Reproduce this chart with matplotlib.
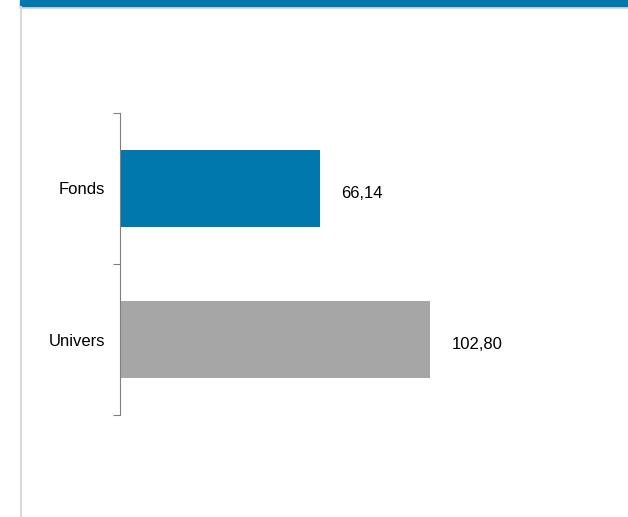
import matplotlib.pyplot as plt
from matplotlib.patches import Rectangle
from matplotlib.lines import Line2D

plt.rcParams['font.family'] = ['Liberation Sans', 'DejaVu Sans']

# data
categories = ['Fonds', 'Univers']
values = [66.14, 102.80]
bar_colors = ['#0077AD', '#A6A6A6']
value_labels = ['66,14', '102,80']

W, H = 628, 517
fig = plt.figure(figsize=(W / 100, H / 100), dpi=100)

# header band and frame lines
fig.patches.append(Rectangle((20 / W, 1 - 7 / H), 1 - 20 / W, 7 / H,
                             transform=fig.transFigure, color='#0077AD', zorder=0))
fig.lines.append(Line2D([20 / W, 1], [1 - 8 / H, 1 - 8 / H], transform=fig.transFigure,
                        color='#D9D9D9', lw=1.2))
fig.lines.append(Line2D([20.5 / W, 20.5 / W], [0, 1 - 7 / H], transform=fig.transFigure,
                        color='#D9D9D9', lw=1.5))

ax = fig.add_axes([120 / W, (H - 415) / H, (W - 120) / W, 302 / H])
y = range(len(categories))
ax.barh(y, values, height=0.51, color=bar_colors, zorder=2)
ax.set_xlim(0, (W - 120) / 3.02)
ax.set_ylim(1.5, -0.5)

# value labels to the right of each bar
for i, (v, lab) in enumerate(zip(values, value_labels)):
    ax.annotate(lab, (v, i), xytext=(15.5, -3.5), textcoords='offset points',
                va='center', ha='left', fontsize=12, color='#000000')

for s in ['top', 'right', 'bottom']:
    ax.spines[s].set_visible(False)
ax.spines['left'].set_color('#808080')
ax.spines['left'].set_linewidth(0.8)
ax.set_xticks([])
ax.set_yticks(list(y))
ax.set_yticklabels(categories, fontsize=12)
ax.tick_params(axis='y', which='major', length=0, pad=10.5)
ax.set_yticks([-0.5, 0.5, 1.5], minor=True)
ax.tick_params(axis='y', which='minor', length=5, width=0.8, color='#808080')

fig.savefig('out.png', dpi=100)
